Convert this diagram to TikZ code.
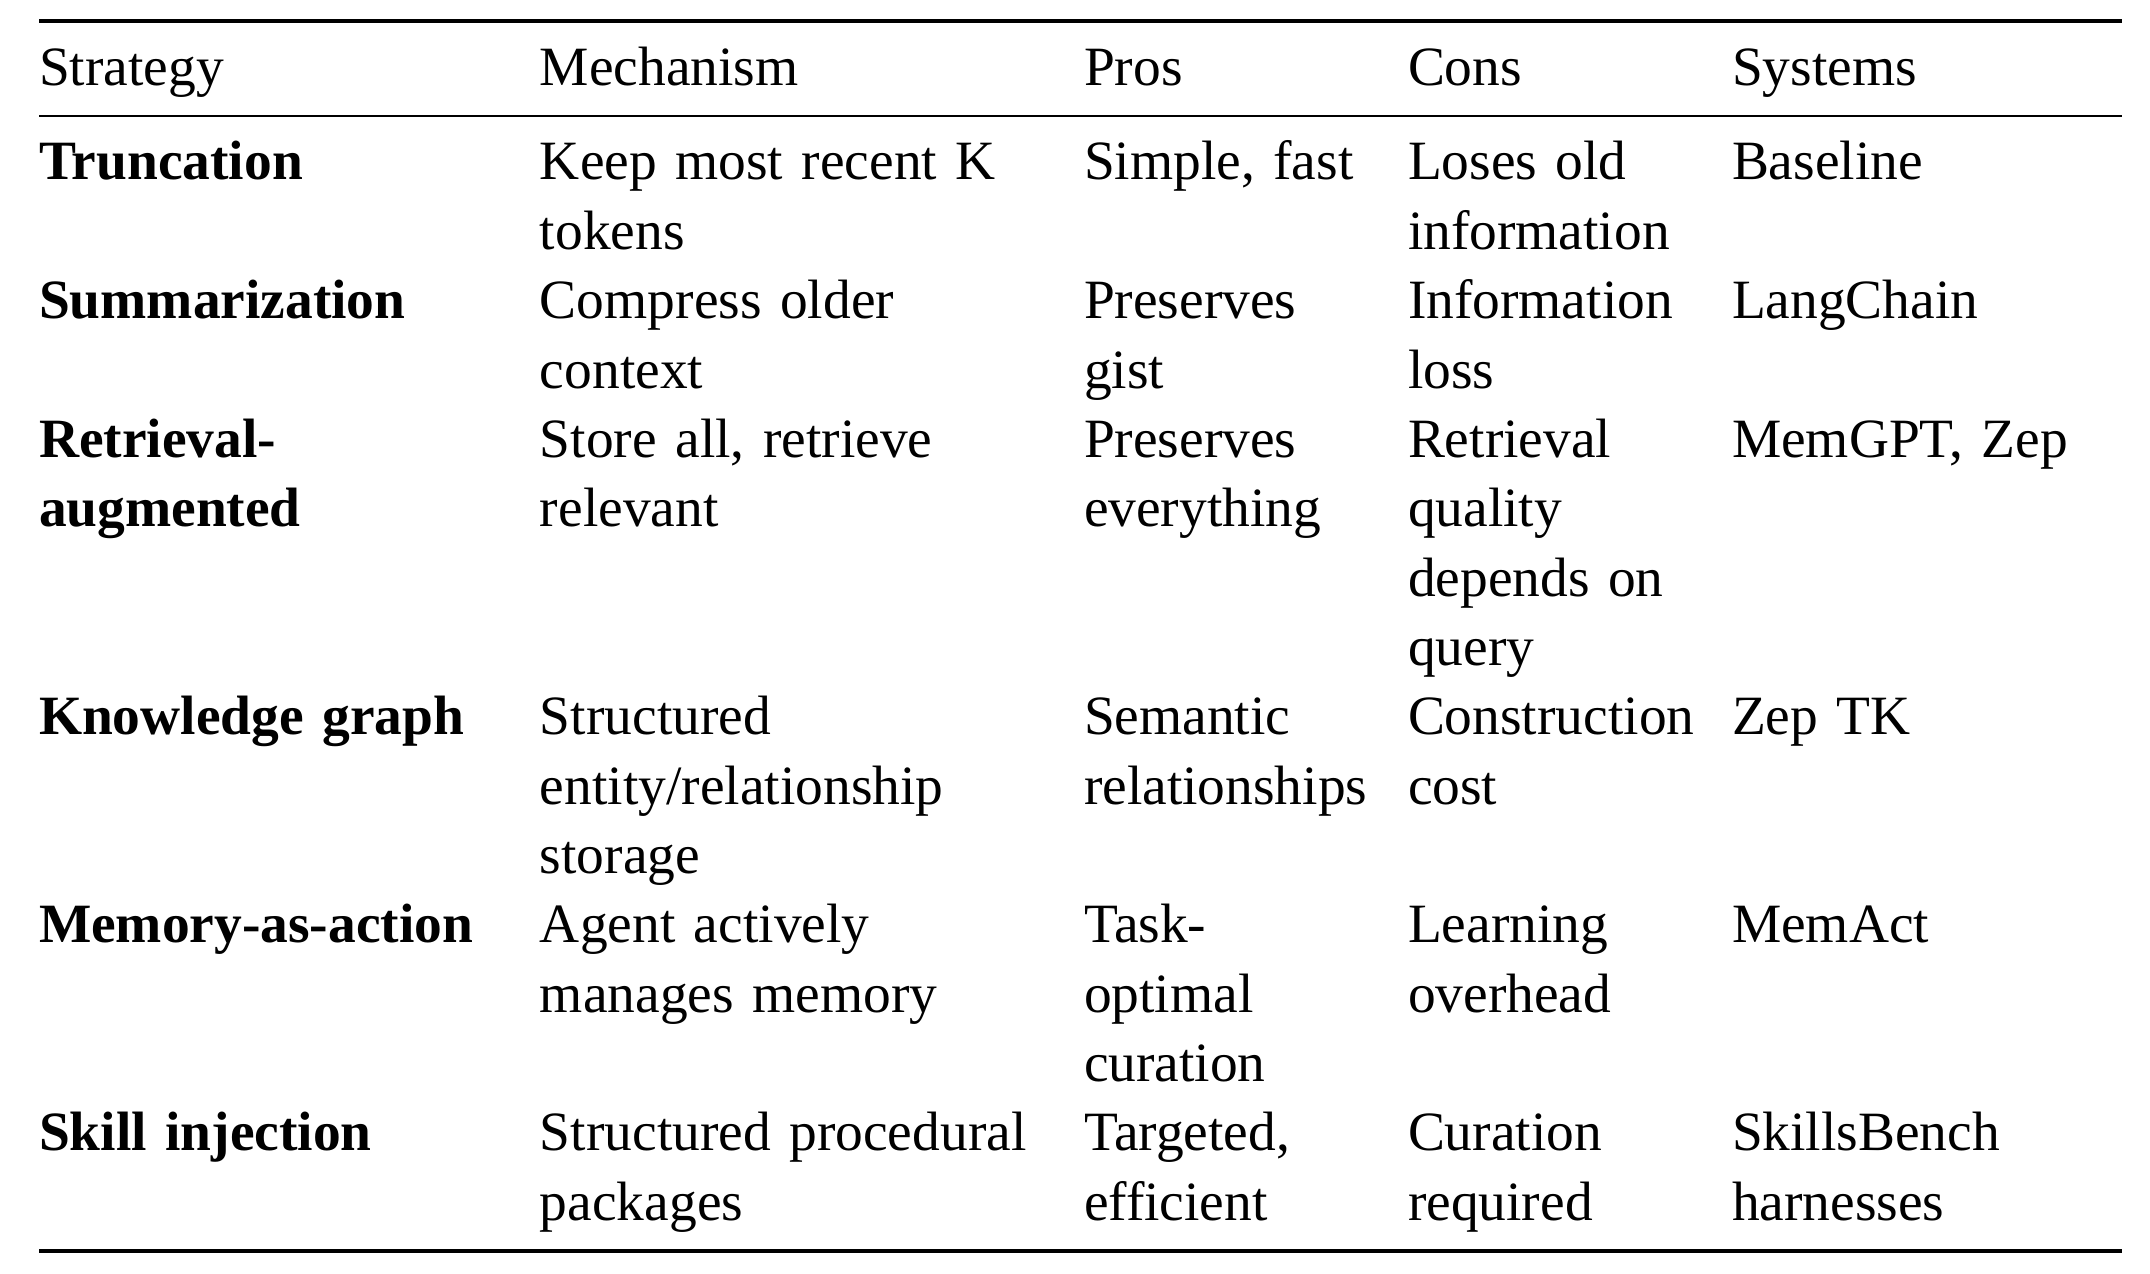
\documentclass[tikz,border=0pt]{standalone}
\usepackage{fontspec}
\setmainfont{Liberation Serif}
\tikzset{
  cell/.style={anchor=base west, inner sep=0pt, outer sep=0pt, text width=140pt, align=left,
    font=\fontsize{11}{13.76}\selectfont},
  bcell/.style={cell, font=\fontsize{11}{13.76}\selectfont\bfseries},
  thickrule/.style={line width=0.8pt},
  thinrule/.style={line width=0.5pt}
}
\begin{document}
\begin{tikzpicture}[x=0.1984pt,y=-0.1984pt]
\path[use as bounding box] (0,0) rectangle (2150,1274);
% columns
\def\cA{39}\def\cB{540}\def\cC{1084}\def\cD{1408}\def\cE{1732}
% rules
\coordinate (tl) at (39,20.7); \coordinate (tr) at (2122,20.7);
\coordinate (ml) at (39,116); \coordinate (mr) at (2122,116);
\coordinate (bl) at (39,1251); \coordinate (br) at (2122,1251);
\draw[thickrule] (tl) -- (tr);
\draw[thinrule] (ml) -- (mr);
\draw[thickrule] (bl) -- (br);
% header
\node[cell] (h1) at (\cA,86) {Strategy};
\node[cell] (h2) at (\cB,86) {Mechanism};
\node[cell] (h3) at (\cC,86) {Pros};
\node[cell] (h4) at (\cD,86) {Cons};
\node[cell] (h5) at (\cE,86) {Systems};
% row 1
\node[bcell] (a1) at (\cA,180) {Truncation};
\node[cell] (b1) at (\cB,180) {Keep most recent K\\tokens};
\node[cell] (c1) at (\cC,180) {Simple, fast};
\node[cell] (d1) at (\cD,180) {Loses old\\information};
\node[cell] (e1) at (\cE,180) {Baseline};
% row 2
\node[bcell] (a2) at (\cA,318.7) {Summarization};
\node[cell] (b2) at (\cB,318.7) {Compress older\\context};
\node[cell] (c2) at (\cC,318.7) {Preserves\\gist};
\node[cell] (d2) at (\cD,318.7) {Information\\loss};
\node[cell] (e2) at (\cE,318.7) {LangChain};
% row 3
\node[bcell] (a3) at (\cA,457.4) {Retrieval-\\augmented};
\node[cell] (b3) at (\cB,457.4) {Store all, retrieve\\relevant};
\node[cell] (c3) at (\cC,457.4) {Preserves\\everything};
\node[cell] (d3) at (\cD,457.4) {Retrieval\\quality\\depends on\\query};
\node[cell] (e3) at (\cE,457.4) {MemGPT, Zep};
% row 4
\node[bcell] (a4) at (\cA,734.8) {Knowledge graph};
\node[cell] (b4) at (\cB,734.8) {Structured\\entity/relationship\\storage};
\node[cell] (c4) at (\cC,734.8) {Semantic\\relationships};
\node[cell] (d4) at (\cD,734.8) {Construction\\cost};
\node[cell] (e4) at (\cE,734.8) {Zep TK};
% row 5
\node[bcell] (a5) at (\cA,942.9) {Memory-as-action};
\node[cell] (b5) at (\cB,942.9) {Agent actively\\manages memory};
\node[cell] (c5) at (\cC,942.9) {Task-\\optimal\\curation};
\node[cell] (d5) at (\cD,942.9) {Learning\\overhead};
\node[cell] (e5) at (\cE,942.9) {MemAct};
% row 6
\node[bcell] (a6) at (\cA,1150.9) {Skill injection};
\node[cell] (b6) at (\cB,1150.9) {Structured procedural\\packages};
\node[cell] (c6) at (\cC,1150.9) {Targeted,\\efficient};
\node[cell] (d6) at (\cD,1150.9) {Curation\\required};
\node[cell] (e6) at (\cE,1150.9) {SkillsBench\\harnesses};
\end{tikzpicture}
\end{document}
